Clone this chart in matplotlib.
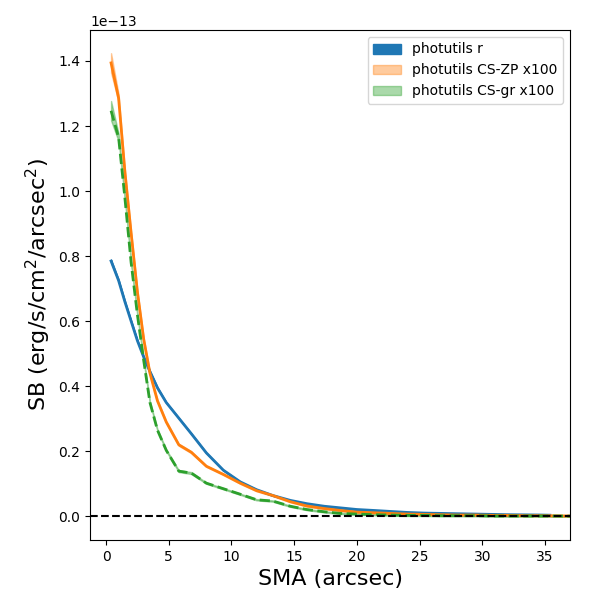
import matplotlib
matplotlib.use("Agg")
import matplotlib.pyplot as plt
import numpy as np

# SMA (arcsec)
sma_r = [0.4, 1.0, 1.5, 2.0, 2.5, 3.0, 3.5, 4.1, 4.8, 5.8, 6.8, 8.0, 9.35, 10.7, 12.0,
         13.3, 14.7, 16.0, 17.4, 18.7, 20.0, 21.4, 22.7, 24.0, 25.4, 26.7, 28.0,
         29.4, 30.7, 32.0, 33.4, 34.7, 35.4]
sma_cs = [0.4, 1.0, 1.5, 2.0, 2.5, 3.0, 3.5, 4.1, 4.8, 5.8, 6.8, 8.0, 9.35, 10.7, 12.0,
          13.3, 14.7, 16.0, 17.4, 18.7, 20.0, 21.4, 22.7, 24.0, 25.4, 26.7, 28.0,
          29.4, 30.7, 32.0, 33.4, 34.7, 36.0, 37.4]

# surface brightness in units of 1e-13 erg/s/cm^2/arcsec^2
sb_r = [0.785, 0.725, 0.66, 0.60, 0.54, 0.49, 0.445, 0.395, 0.35, 0.302, 0.254, 0.195,
        0.142, 0.106, 0.082, 0.064, 0.049, 0.039, 0.031, 0.026, 0.021, 0.018, 0.015,
        0.012, 0.010, 0.009, 0.008, 0.007, 0.006, 0.005, 0.0045, 0.004, 0.0035]
err_r = [0.004, 0.003, 0.003, 0.002, 0.002, 0.002, 0.002, 0.002, 0.001, 0.001, 0.001,
         0.001, 0.001, 0.001, 0.001, 0.001, 0.001, 0.001, 0.001, 0.001, 0.001, 0.001,
         0.001, 0.001, 0.001, 0.001, 0.001, 0.001, 0.001, 0.001, 0.001, 0.001, 0.001]

sb_zp = [1.394, 1.286, 1.06, 0.87, 0.69, 0.545, 0.44, 0.355, 0.29, 0.22, 0.197, 0.154,
         0.129, 0.102, 0.079, 0.064, 0.045, 0.032, 0.024, 0.018, 0.013, 0.011, 0.009,
         0.007, 0.006, 0.005, 0.004, 0.004, 0.003, 0.003, 0.002, 0.002, 0.0015, 0.001]
err_zp = [0.03, 0.012, 0.008, 0.006, 0.005, 0.004, 0.004, 0.003, 0.003, 0.003, 0.003,
          0.002, 0.002, 0.002, 0.002, 0.002, 0.002, 0.002, 0.002, 0.002, 0.002, 0.002,
          0.002, 0.002, 0.002, 0.002, 0.002, 0.002, 0.002, 0.002, 0.002, 0.002, 0.002, 0.002]

sb_gr = [1.247, 1.165, 0.98, 0.78, 0.62, 0.48, 0.35, 0.265, 0.203, 0.139, 0.133, 0.102,
         0.085, 0.068, 0.051, 0.047, 0.031, 0.021, 0.014, 0.009, 0.007, 0.005, 0.004,
         0.003, 0.003, 0.002, 0.002, 0.002, 0.001, 0.001, 0.001, 0.001, 0.001, 0.0005]
err_gr = [0.03, 0.012, 0.008, 0.006, 0.005, 0.004, 0.004, 0.003, 0.003, 0.003, 0.003,
          0.002, 0.002, 0.002, 0.002, 0.002, 0.002, 0.002, 0.002, 0.002, 0.002, 0.002,
          0.002, 0.002, 0.002, 0.002, 0.002, 0.002, 0.002, 0.002, 0.002, 0.002, 0.002, 0.002]

scale = 1e-13
xr = np.array(sma_r); yr = np.array(sb_r) * scale; er = np.array(err_r) * scale
xc = np.array(sma_cs)
yz = np.array(sb_zp) * scale; ez = np.array(err_zp) * scale
yg = np.array(sb_gr) * scale; eg = np.array(err_gr) * scale

fig = plt.figure(figsize=(6, 6), dpi=100)
ax = fig.add_axes([0.15, 0.10, 0.80, 0.85])

ax.fill_between(xr, yr - er, yr + er, color='C0', label='photutils r')
ax.plot(xr, yr, color='C0', lw=2)
ax.fill_between(xc, yz - ez, yz + ez, color='C1', alpha=0.4, label='photutils CS-ZP x100')
ax.plot(xc, yz, color='C1', lw=2)
ax.fill_between(xc, yg - eg, yg + eg, color='C2', alpha=0.4, label='photutils CS-gr x100')
ax.plot(xc, yg, color='C2', lw=2, ls='--')

ax.axhline(0, color='k', ls='--', lw=1.5)

ax.set_xlim(-1.28, 37)
ax.set_xlabel('SMA (arcsec)', fontsize=16)
ax.set_ylabel('SB (erg/s/cm$^2$/arcsec$^2$)', fontsize=16)
ax.legend(loc='upper right')

fig.savefig('out.png', dpi=100)
